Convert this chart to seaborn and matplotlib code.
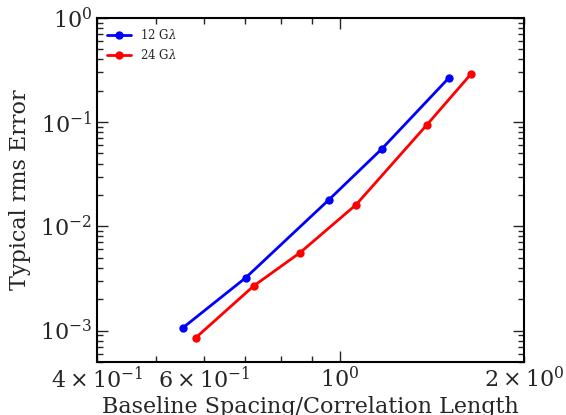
import matplotlib
matplotlib.use("Agg")
import matplotlib.pyplot as plt
import seaborn as sns
import pandas as pd

# values (log-log)
spacing_12 = [0.553, 0.701, 0.959, 1.171, 1.507]
error_12 = [1.06e-3, 3.21e-3, 0.0180, 0.0555, 0.266]

spacing_24 = [0.581, 0.723, 0.860, 1.062, 1.387, 1.638]
error_24 = [8.55e-4, 2.69e-3, 5.58e-3, 0.0161, 0.0942, 0.290]

labels = ["12 G$\\lambda$", "24 G$\\lambda$"]
colors = ["blue", "red"]

sns.set_style("ticks")
plt.rcParams["font.family"] = ["DejaVu Serif"]
plt.rcParams["mathtext.fontset"] = "dejavuserif"
plt.rcParams["xtick.direction"] = "in"
plt.rcParams["ytick.direction"] = "in"
plt.rcParams["xtick.top"] = True
plt.rcParams["ytick.right"] = True

df = pd.concat([
    pd.DataFrame({"spacing": spacing_12, "error": error_12, "band": labels[0]}),
    pd.DataFrame({"spacing": spacing_24, "error": error_24, "band": labels[1]}),
])

fig = plt.figure(figsize=(5.66, 4.15), dpi=100)
ax = fig.add_axes([0.171, 0.128, 0.755, 0.829])

sns.lineplot(data=df, x="spacing", y="error", hue="band", hue_order=labels,
             palette=colors, marker="o", markersize=6, markeredgewidth=0,
             linewidth=2, sort=False, ax=ax)

ax.set_xscale("log")
ax.set_yscale("log")
ax.set_xlim(0.4, 2.0)
ax.set_ylim(5e-4, 1.0)

ax.set_xlabel("Baseline Spacing/Correlation Length", fontsize=16, labelpad=2)
ax.set_ylabel("Typical rms Error", fontsize=16, labelpad=6)
ax.tick_params(which="both", labelsize=16, width=1)
ax.tick_params(which="major", length=8)
ax.tick_params(which="minor", length=4)
for s in ax.spines.values():
    s.set_linewidth(1.5)
    s.set_color("black")

ax.legend(loc="upper left", frameon=False, fontsize=8.5, title=None)

fig.savefig("out.png", dpi=100)
